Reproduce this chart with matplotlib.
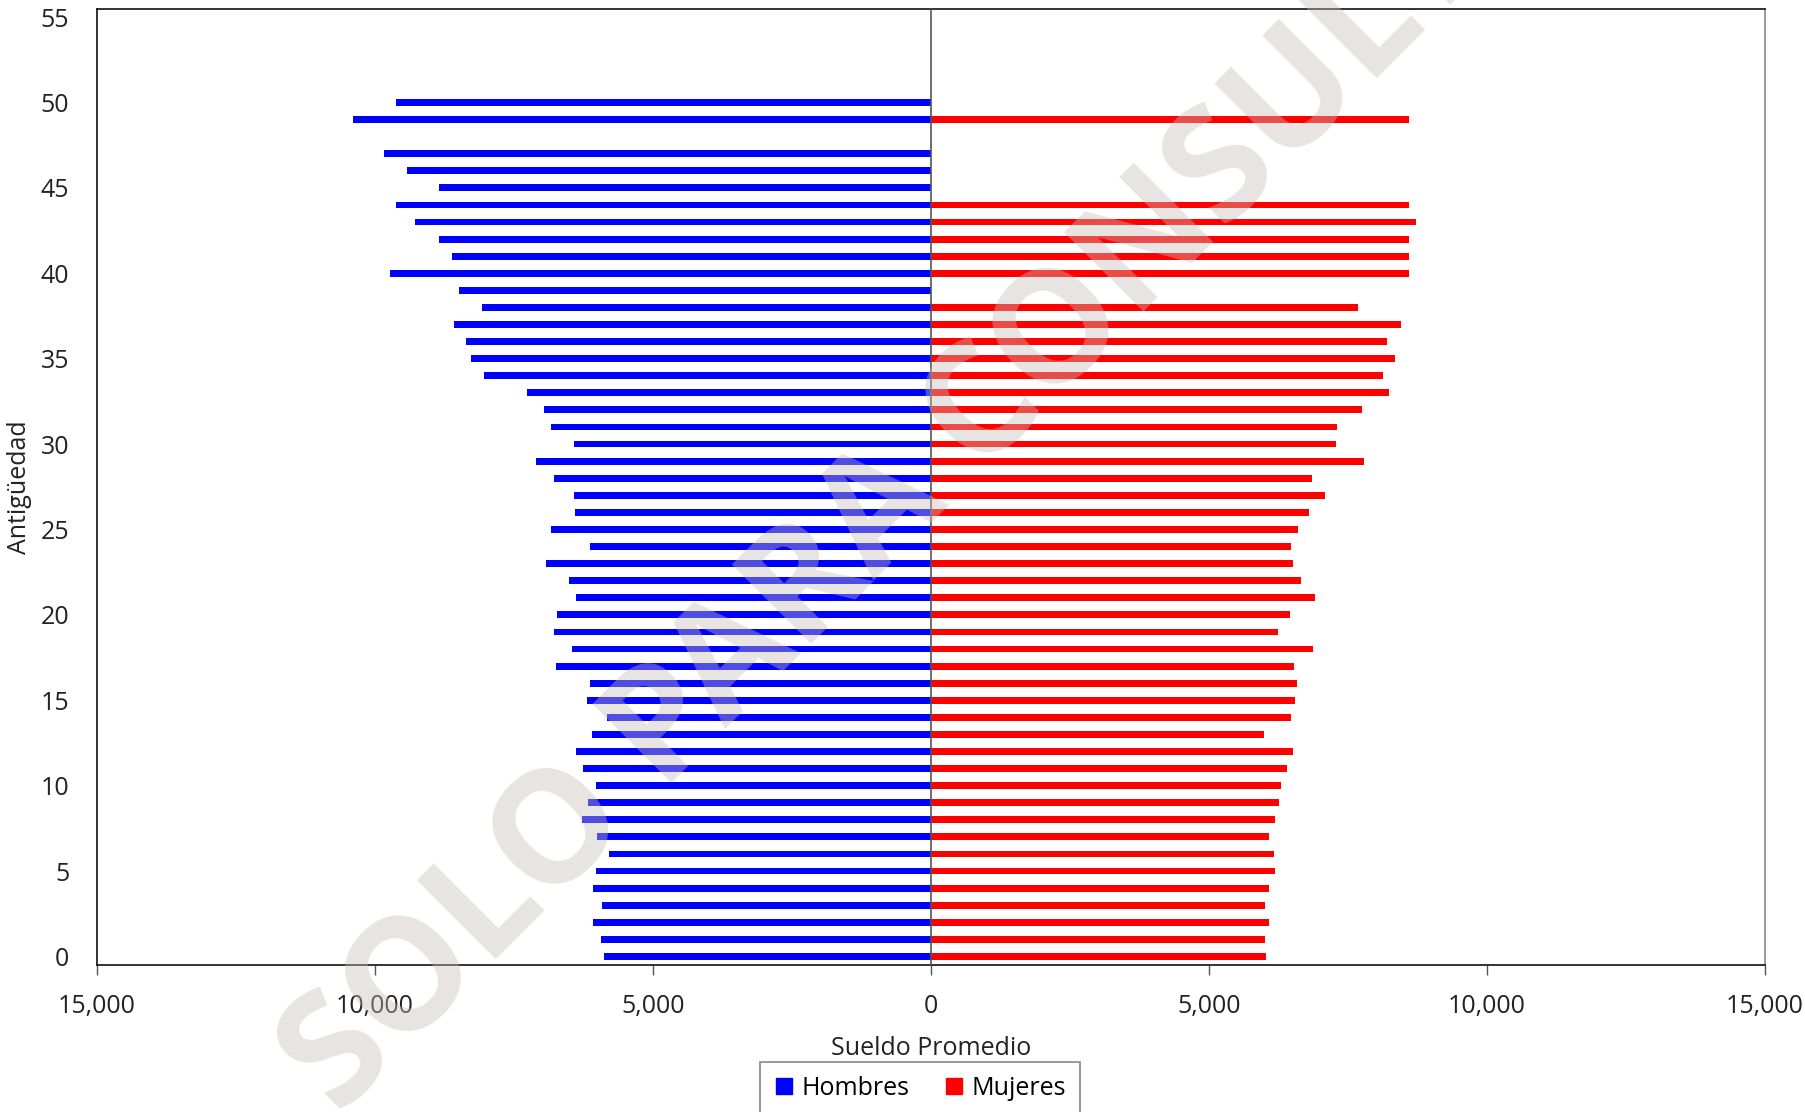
import numpy as np
import matplotlib.pyplot as plt
from matplotlib.lines import Line2D
from matplotlib.ticker import FuncFormatter

plt.rcParams['font.family'] = ['Open Sans', 'DejaVu Sans']

# antigüedad (años) y sueldo promedio por sexo
antiguedad = list(range(0, 51))
hombres = [5874, 5929, 6072, 5918, 6083, 6017, 5786, 6006, 6270, 6171,
           6017, 6259, 6392, 6105, 5830, 6193, 6127, 6744, 6458, 6788,
           6733, 6381, 6502, 6932, 6127, 6832, 6403, 6414, 6788, 7108,
           6414, 6832, 6965, 7273, 8045, 8265, 8364, 8574, 8067, 8485,
           9731, 8607, 8849, 9279, 9620, 8849, 9433, 9841, 0, 10392,
           9620]
mujeres = [6026, 6005, 6078, 6015, 6078, 6181, 6171, 6088, 6181, 6265,
           6296, 6400, 6514, 5994, 6483, 6555, 6576, 6524, 6878, 6233,
           6452, 6898, 6649, 6504, 6483, 6607, 6805, 7085, 6846, 7792,
           7283, 7303, 7750, 8238, 8135, 8353, 8207, 8457, 7688, 0,
           8592, 8592, 8592, 8716, 8592, 0, 0, 0, 0, 8592,
           0]

x_ticks = [-15000, -10000, -5000, 0, 5000, 10000, 15000]
y_ticks = list(range(0, 56, 5))

fig = plt.figure(figsize=(18.06, 11.12), dpi=100)
ax = fig.add_axes([97 / 1806, 1 - 965 / 1112, (1765 - 97) / 1806, (965 - 8.5) / 1112])

ax.barh(antiguedad, [-v for v in hombres], height=0.4, color='#0000ff', zorder=2)
ax.barh(antiguedad, mujeres, height=0.4, color='#ff0000', zorder=2)
ax.axvline(0, color='#555555', lw=1.2, zorder=3)

ax.set_xlim(-15000, 15000)
ax.set_ylim(-0.5, 55.5)
ax.set_xticks(x_ticks)
ax.xaxis.set_major_formatter(FuncFormatter(lambda v, p: f"{abs(int(v)):,}"))
ax.set_yticks(y_ticks)
ax.tick_params(axis='x', length=7, width=1, color='#555555', labelsize=18,
               labelcolor='#222222', pad=14)
ax.tick_params(axis='y', length=0, labelsize=18, labelcolor='#222222', pad=20)

for s in ['top', 'left', 'bottom']:
    ax.spines[s].set_color('#111111')
    ax.spines[s].set_linewidth(1.2)
ax.spines['right'].set_color('#888888')
ax.spines['right'].set_linewidth(1.2)

ax.set_xlabel('Sueldo Promedio', fontsize=18, color='#222222', labelpad=12)
ax.set_ylabel('Antigüedad', fontsize=18, color='#222222', labelpad=6)

handles = [Line2D([], [], marker='s', ls='none', color='#0000ff', markersize=11),
           Line2D([], [], marker='s', ls='none', color='#ff0000', markersize=11)]
leg = fig.legend(handles, ['Hombres', 'Mujeres'], loc='upper center',
                 bbox_to_anchor=(920 / 1806, 1 - 1062 / 1112), ncol=2,
                 fontsize=18, frameon=True, fancybox=False, framealpha=1,
                 edgecolor='#888888', handlelength=0.8, handletextpad=0.3,
                 columnspacing=1.4, borderpad=0.55, borderaxespad=0)
leg.get_frame().set_linewidth(1.2)

# marca de agua
fig.text(920 / 1806, 1 - 478 / 1112, 'SOLO PARA CONSULTA', rotation=45,
         rotation_mode='anchor', ha='center', va='center', fontsize=112,
         fontweight='bold', color=(200 / 255, 190 / 255, 183 / 255),
         alpha=0.41, zorder=10)

fig.savefig('out.png', dpi=100)
